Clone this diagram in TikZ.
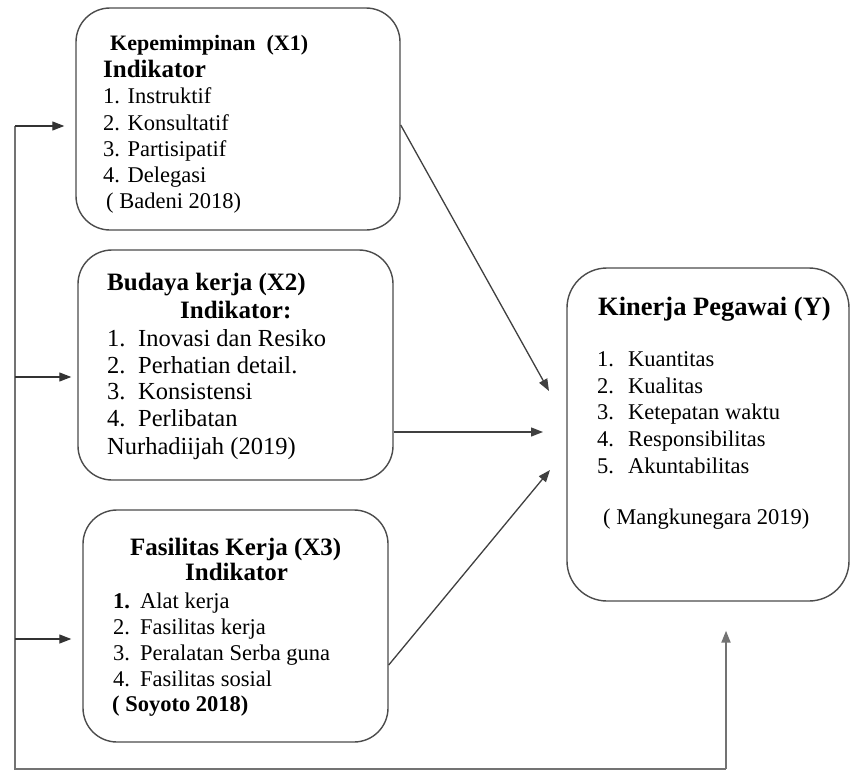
\documentclass[tikz,border=0pt]{standalone}
\usepackage{fontspec}
\setmainfont{Liberation Serif}
\usetikzlibrary{arrows.meta,calc}
\tikzset{
  box/.style={draw=black!70, line width=1.4pt, rounded corners=34pt, inner sep=0pt},
  txt/.style={anchor=base west, inner sep=0pt, font=\fontsize{22.5}{27}\selectfont},
  txtb/.style={anchor=base west, inner sep=0pt, font=\fontsize{24.5}{29}\selectfont},
  hd/.style={anchor=base west, inner sep=0pt, font=\fontsize{22}{27}\selectfont\bfseries},
  hdb/.style={anchor=base west, inner sep=0pt, font=\fontsize{25}{30}\selectfont\bfseries},
  arr/.style={draw=black!75, line width=1.3pt, -{Triangle[length=12pt,width=9pt]}},
  feed/.style={draw=black!55, line width=2pt},
  feedarr/.style={draw=black!80, line width=1.2pt, -{Triangle[length=12pt,width=9pt]}},
}
\begin{document}
\begin{tikzpicture}[x=1pt,y=-1pt]
\useasboundingbox (0,0) rectangle (851,771);
\fill[white] (0,0) rectangle (851,771);

% boxes
\node[box, minimum width=324pt, minimum height=222pt] (x1) at (238,119) {};
\node[box, minimum width=315pt, minimum height=230pt] (x2) at (235.5,365) {};
\node[box, minimum width=305pt, minimum height=232pt] (x3) at (235.5,626) {};
\node[box, minimum width=282pt, minimum height=333pt, rounded corners=40pt] (yb) at (708,434.5) {};

% box X1 text
\node[hd] (a0) at (110,50) {Kepemimpinan\ \ (X1)};
\node[hdb] (a1) at (103,77) {Indikator};
\node[txt] (a2) at (103,103) {1. Instruktif};
\node[txt] (a3) at (103,130) {2. Konsultatif};
\node[txt] (a4) at (103,156) {3. Partisipatif};
\node[txt] (a5) at (103,182) {4. Delegasi};
\node[txt] (a6) at (106,208) {( Badeni 2018)};

% box X2 text
\node[hdb] (b0) at (107,290) {Budaya kerja (X2)};
\node[hdb] (b1) at (180,318) {Indikator:};
\node[txtb] (b2n) at (107,346) {1.};
\node[txtb] (b2) at (138,346) {Inovasi dan Resiko};
\node[txtb] (b3n) at (107,373) {2.};
\node[txtb] (b3) at (138,373) {Perhatian detail.};
\node[txtb] (b4n) at (107,399) {3.};
\node[txtb] (b4) at (138,399) {Konsistensi};
\node[txtb] (b5n) at (107,426) {4.};
\node[txtb] (b5) at (138,426) {Perlibatan};
\node[txtb] (b6) at (107,454) {Nurhadiijah (2019)};

% box X3 text
\node[hdb] (c0) at (130,555) {Fasilitas Kerja (X3)};
\node[hdb] (c1) at (185,580) {Indikator};
\node[txt,font=\fontsize{22.5}{27}\selectfont\bfseries] (c2n) at (113,608) {1.};
\node[txt] (c2) at (140,608) {Alat kerja};
\node[txt] (c3n) at (113,634) {2.};
\node[txt] (c3) at (140,634) {Fasilitas kerja};
\node[txt] (c4n) at (113,660) {3.};
\node[txt] (c4) at (140,660) {Peralatan Serba guna};
\node[txt] (c5n) at (113,686) {4.};
\node[txt] (c5) at (140,686) {Fasilitas sosial};
\node[txt,font=\fontsize{22.5}{27}\selectfont\bfseries] (c6) at (112,711) {( Soyoto 2018)};

% box Y text
\node[hdb, font=\fontsize{26.5}{30}\selectfont\bfseries] (d0) at (598,315) {Kinerja Pegawai (Y)};
\node[txt] (d1n) at (597,366) {1.};
\node[txt] (d1) at (628,366) {Kuantitas};
\node[txt] (d2n) at (597,393) {2.};
\node[txt] (d2) at (628,393) {Kualitas};
\node[txt] (d3n) at (597,419) {3.};
\node[txt] (d3) at (628,419) {Ketepatan waktu};
\node[txt] (d4n) at (597,446) {4.};
\node[txt] (d4) at (628,446) {Responsibilitas};
\node[txt] (d5n) at (597,473) {5.};
\node[txt] (d5) at (628,473) {Akuntabilitas};
\node[txt] (d6) at (603,524) {( Mangkunegara 2019)};

% arrows into Y
\coordinate (t1) at (549,391);
\coordinate (t2) at (543,432);
\coordinate (t3) at (550,470);
\draw[arr] ($(x1.east)+(0,6)$) -- (t1);
\draw[arr] ($(x2.east)+(0,67)$) -- (t2);
\draw[arr] ($(x3.east)+(0,39)$) -- (t3);

% feedback loop
\coordinate (cTop) at (15,126);
\coordinate (c2b) at (15,377);
\coordinate (c3b) at (15,639);
\coordinate (cBot) at (15,769);
\coordinate (cRight) at (726,769);
\coordinate (tipY) at ($(yb.south)+(18,29)$);
\draw[feed] (cTop) -- (cBot) -- (cRight);
\draw[feedarr] (cTop) -- ($(x1.west)+(-11,7)$);
\draw[feedarr] (c2b) -- ($(x2.west)+(-6,12)$);
\draw[feedarr] (c3b) -- ($(x3.west)+(-11,13)$);
\draw[feed, -{Triangle[length=12pt,width=9pt]}] (cRight) -- (tipY);
\end{tikzpicture}
\end{document}
